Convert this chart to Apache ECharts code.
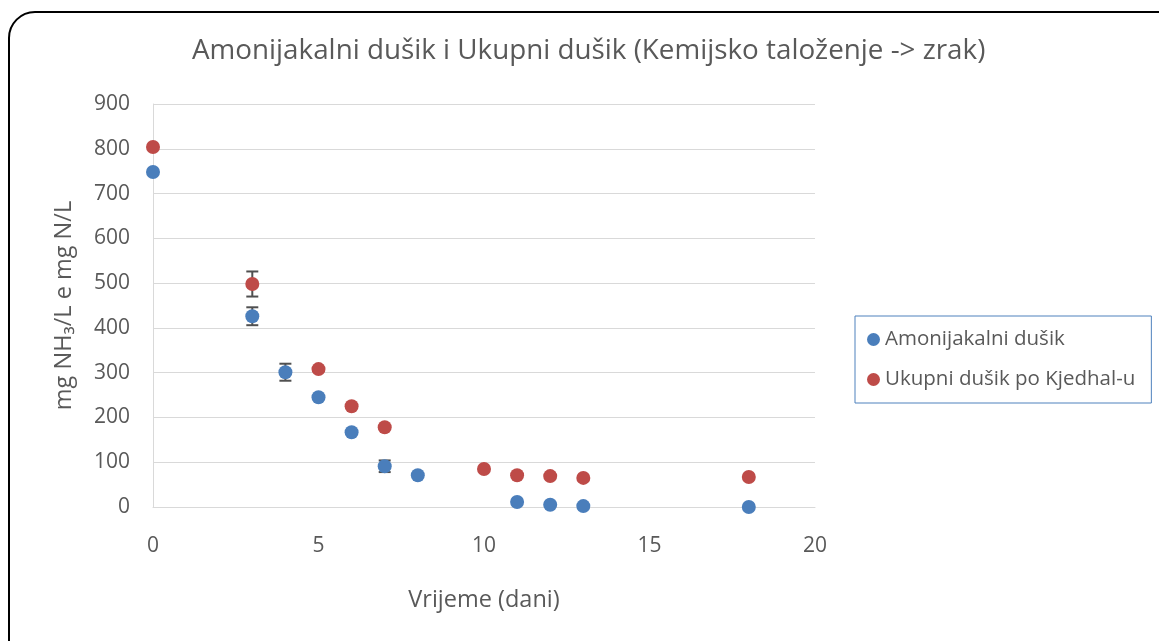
<!DOCTYPE html>
<html>
<head>
<meta charset="utf-8">
<script src="https://cdn.jsdelivr.net/npm/echarts@6/dist/echarts.min.js"></script>
<style>html,body{margin:0;padding:0;background:#fff}#c{width:1159px;height:641px}</style>
</head>
<body>
<div id="c"></div>
<script>
const titleText = 'Amonijakalni dušik i Ukupni dušik (Kemijsko taloženje -> zrak)';
const seriesNames = ['Amonijakalni dušik', 'Ukupni dušik po Kjedhal-u'];
const ammoniaX = [0, 3, 4, 5, 6, 7, 8, 11, 12, 13, 18];
const ammoniaY = [748, 426, 301, 245, 167, 91, 71, 11, 5, 2, 0];
const totalX = [0, 3, 5, 6, 7, 10, 11, 12, 13, 18];
const totalY = [804, 498, 308, 225, 178, 85, 71, 69, 65, 67];
// error bars: [x, y, half-width]
const ammoniaErr = [[3, 426, 20], [4, 301, 19], [7, 91, 13]];
const totalErr = [[3, 498, 28]];
const xTicks = [0, 5, 10, 15, 20];
const yTicks = [0, 100, 200, 300, 400, 500, 600, 700, 800, 900];

const FONT = '"Open Sans", Lato, sans-serif';
const TXT = '#595959';

function errRender(params, api) {
  const x = api.value(0), y = api.value(1), e = api.value(2);
  const top = api.coord([x, y + e]);
  const bot = api.coord([x, y - e]);
  const w = 6;
  const st = { stroke: '#505050', lineWidth: 2 };
  return {
    type: 'group',
    children: [
      { type: 'line', shape: { x1: top[0], y1: top[1], x2: bot[0], y2: bot[1] }, style: st },
      { type: 'line', shape: { x1: top[0] - w, y1: top[1], x2: top[0] + w, y2: top[1] }, style: st },
      { type: 'line', shape: { x1: bot[0] - w, y1: bot[1], x2: bot[0] + w, y2: bot[1] }, style: st }
    ]
  };
}

const chart = echarts.init(document.getElementById('c'));
chart.setOption({
  animation: false,
  backgroundColor: '#fff',
  graphic: [{
    type: 'rect', left: 8, top: 11, z: -10,
    shape: { width: 1180, height: 660, r: 26 },
    style: { fill: '#fff', stroke: '#000', lineWidth: 2 }
  }],
  title: {
    text: titleText, left: 187, top: 32,
    textStyle: { fontFamily: FONT, fontSize: 27.8, fontWeight: 'normal', color: TXT }
  },
  legend: {
    orient: 'vertical', left: 855, top: 316,
    data: seriesNames,
    icon: 'circle', itemWidth: 13, itemHeight: 13, itemGap: 19,
    padding: [13, 16, 13, 12],
    borderColor: '#4F81BD', borderWidth: 1,
    textStyle: { fontFamily: FONT, fontSize: 20.5, color: TXT }
  },
  grid: { left: 153, right: 344, top: 104, bottom: 134 },
  xAxis: {
    type: 'value', min: 0, max: 20, interval: 5,
    name: 'Vrijeme (dani)', nameLocation: 'middle', nameGap: 81,
    nameTextStyle: { fontFamily: FONT, fontSize: 23.5, color: TXT },
    axisLine: { show: true, lineStyle: { color: '#D9D9D9' } },
    axisTick: { show: false },
    splitLine: { show: false },
    axisLabel: { margin: 29, fontFamily: FONT, fontSize: 21, color: TXT,
      customValues: xTicks }
  },
  yAxis: {
    type: 'value', min: 0, max: 900, interval: 100,
    name: 'mg NH₃/L e mg N/L', nameLocation: 'middle', nameGap: 77,
    nameTextStyle: { fontFamily: FONT, fontSize: 23.5, color: TXT },
    axisLine: { show: true, lineStyle: { color: '#D9D9D9' } },
    axisTick: { show: false },
    splitLine: { show: true, lineStyle: { color: '#D9D9D9', width: 1 } },
    axisLabel: { margin: 23, fontFamily: FONT, fontSize: 21, color: TXT,
      customValues: yTicks }
  },
  series: [
    {
      name: seriesNames[0], type: 'scatter', symbolSize: 14, z: 3,
      itemStyle: { color: '#4A7EBB', opacity: 1 },
      data: ammoniaX.map((x, i) => [x, ammoniaY[i]])
    },
    {
      name: seriesNames[1], type: 'scatter', symbolSize: 14, z: 3,
      itemStyle: { color: '#BE4B48', opacity: 1 },
      data: totalX.map((x, i) => [x, totalY[i]])
    },
    {
      type: 'custom', renderItem: errRender, z: 2, silent: true,
      data: ammoniaErr.concat(totalErr)
    }
  ]
});
</script>
</body>
</html>
